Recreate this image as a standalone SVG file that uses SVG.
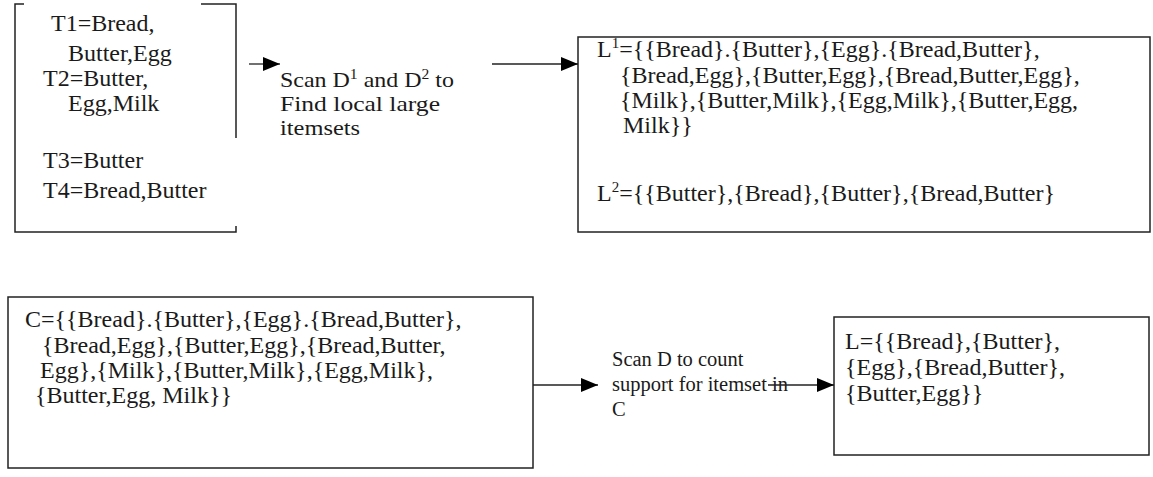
<svg xmlns="http://www.w3.org/2000/svg" width="1153" height="477" viewBox="0 0 1153 477">
<style>
.t{font-family:"Liberation Serif","Times New Roman",serif;font-size:24px;fill:#1a1a1a}
.m{font-family:"Liberation Serif","Times New Roman",serif;font-size:21.5px;fill:#1a1a1a}
.s{font-family:"Liberation Serif","Times New Roman",serif;font-size:20.5px;fill:#1a1a1a}
.b{fill:none;stroke:#222;stroke-width:1.5}
.c{fill:none;stroke:#222;stroke-width:1.3}
</style>
<defs>
<marker id="ah" markerUnits="userSpaceOnUse" markerWidth="20" markerHeight="16" refX="17" refY="8" orient="auto">
<path d="M0,1 L17,8 L0,15 Z" fill="#000"/>
</marker>
</defs>
<g id="box-transactions">
<path class="b" d="M24,4 H15 V232 H236 V226 M236,138 V4 H201"/>
<text class="t" x="51" y="31">T1=Bread,</text>
<text class="t" x="68" y="61">Butter,Egg</text>
<text class="t" x="43" y="86">T2=Butter,</text>
<text class="t" x="68" y="111">Egg,Milk</text>
<text class="t" x="43" y="168">T3=Butter</text>
<text class="t" x="43" y="198">T4=Bread,Butter</text>
</g>
<g id="label-scan-local">
<text class="m" x="280" y="87" textLength="174" lengthAdjust="spacingAndGlyphs">Scan D<tspan font-size="14" dy="-8">1</tspan><tspan dy="8"> and D</tspan><tspan font-size="14" dy="-8">2</tspan><tspan dy="8"> to</tspan></text>
<text class="m" x="280" y="111" textLength="160" lengthAdjust="spacingAndGlyphs">Find local large</text>
<text class="m" x="280" y="135" textLength="80" lengthAdjust="spacingAndGlyphs">itemsets</text>
</g>
<g id="box-local-large">
<rect class="b" x="578" y="37" width="572" height="195"/>
<text class="t" x="597" y="57">L<tspan font-size="15" dy="-9">1</tspan><tspan dy="9">={{Bread}.{Butter},{Egg}.{Bread,Butter},</tspan></text>
<text class="t" x="620" y="83">{Bread,Egg},{Butter,Egg},{Bread,Butter,Egg},</text>
<text class="t" x="620" y="108">{Milk},{Butter,Milk},{Egg,Milk},{Butter,Egg,</text>
<text class="t" x="623" y="133">Milk}}</text>
<text class="t" x="597" y="201">L<tspan font-size="15" dy="-9">2</tspan><tspan dy="9">={{Butter},{Bread},{Butter},{Bread,Butter}</tspan></text>
</g>
<g id="box-candidates">
<rect class="b" x="8" y="297" width="525" height="171"/>
<text class="t" x="25" y="327">C={{Bread}.{Butter},{Egg}.{Bread,Butter},</text>
<text class="t" x="42" y="353">{Bread,Egg},{Butter,Egg},{Bread,Butter,</text>
<text class="t" x="40" y="378">Egg},{Milk},{Butter,Milk},{Egg,Milk},</text>
<text class="t" x="35" y="403">{Butter,Egg, Milk}}</text>
</g>
<g id="label-scan-count">
<text class="s" x="612" y="366">Scan D to count</text>
<text class="s" x="612" y="391">support for itemset in</text>
<text class="s" x="612" y="416">C</text>
</g>
<g id="box-large">
<rect class="b" x="834" y="317" width="315" height="138"/>
<text class="t" x="845" y="349">L={{Bread},{Butter},</text>
<text class="t" x="845" y="375">{Egg},{Bread,Butter},</text>
<text class="t" x="845" y="401">{Butter,Egg}}</text>
</g>
<g id="connectors">
<line class="c" x1="249" y1="64" x2="280" y2="64" marker-end="url(#ah)"/>
<line class="c" x1="492" y1="64" x2="578" y2="64" marker-end="url(#ah)"/>
<line class="c" x1="533" y1="385" x2="598" y2="385" marker-end="url(#ah)"/>
<line class="c" x1="768" y1="385" x2="834" y2="385" marker-end="url(#ah)"/>
</g>
</svg>
